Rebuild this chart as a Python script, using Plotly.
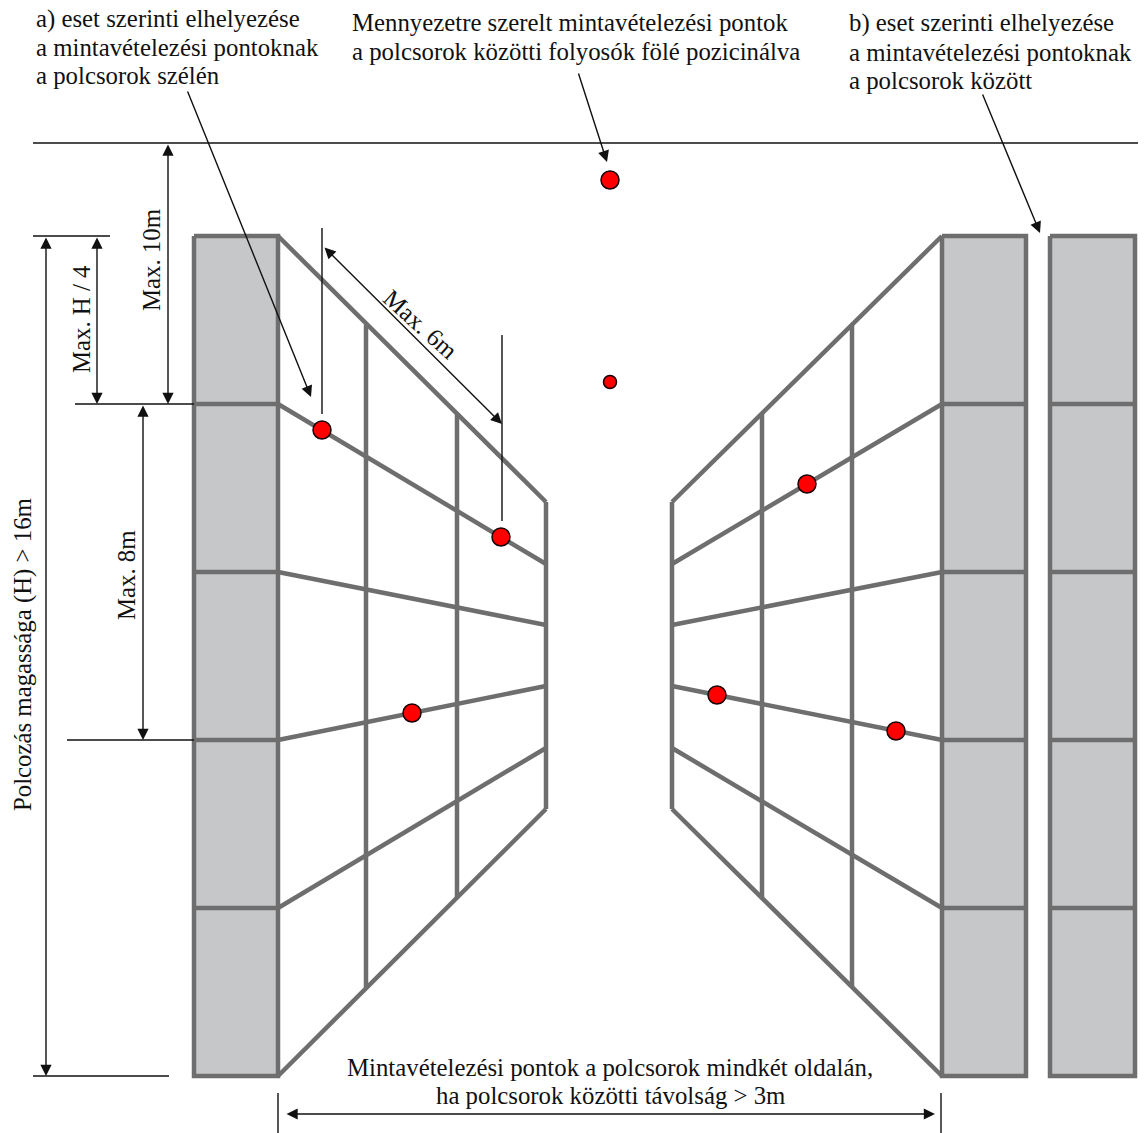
import plotly.graph_objects as go

# --- data (page pixel coordinates) ---
block_left = [194, 278]
block_mid = [942, 1026]
block_right = [1050, 1135]
level_y = [236, 404, 572, 740, 908, 1076]

far_left_x = 546
far_right_x = 672
far_y = [502, 564, 625, 686, 748, 809]
left_posts = [(366, 325, 987), (457, 414, 898), (546, 502, 809)]
right_posts = [(762, 414, 898), (852, 325, 987), (672, 502, 809)]

dots_large_x = [610, 322, 501, 412, 807, 717, 896]
dots_large_y = [180, 430, 537, 713, 484, 695, 731]
dots_small_x = [610]
dots_small_y = [382]

thin_lines = [
    ((33, 1138), (143, 143)),
    ((33, 110), (236, 236)),
    ((75, 194), (404, 404)),
    ((67, 194), (740, 740)),
    ((33, 169), (1076, 1076)),
    ((322, 322), (228, 414)),
    ((502, 502), (335, 521)),
    ((278, 278), (1093, 1133)),
    ((941, 941), (1093, 1133)),
]

# x0, y0, x1, y1, both ends?
arrows = [
    (46, 236, 46, 1076, True),
    (97, 236, 97, 404, True),
    (168, 143, 168, 404, True),
    (143, 404, 143, 740, True),
    (323, 246, 502, 424, True),
    (285, 1114, 935, 1114, True),
    (187, 90, 311, 397, False),
    (578, 72, 607, 162, False),
    (982, 93, 1040, 233, False),
]

labels = [
    ("a) eset szerinti elhelyezése", 36, 19, "left", 0),
    ("a mintavételezési pontoknak", 36, 47, "left", 0),
    ("a polcsorok szélén", 36, 75, "left", 0),
    ("Mennyezetre szerelt mintavételezési pontok", 352, 22, "left", 0),
    ("a polcsorok közötti folyosók fölé pozicinálva", 352, 51, "left", 0),
    ("b) eset szerinti elhelyezése", 849, 23, "left", 0),
    ("a mintavételezési pontoknak", 849, 52, "left", 0),
    ("a polcsorok között", 849, 80, "left", 0),
    ("Mintavételezési pontok a polcsorok mindkét oldalán,", 610, 1067, "center", 0),
    ("ha polcsorok közötti távolság &gt; 3m", 610, 1095, "center", 0),
    ("Polcozás magassága (H) &gt; 16m", 23, 655, "center", -90),
    ("Max. H / 4", 81, 319, "center", -90),
    ("Max. 10m", 151, 260, "center", -90),
    ("Max. 8m", 126, 575, "center", -90),
    ("Max. 6m", 421, 324, "center", 42),
]

GREY = "#6e6e6e"
FILL = "#c6c7c9"
FONT = "Liberation Serif"
GREY_W = 4.5

fig = go.Figure()


def add_line(xs, ys, color=GREY, width=GREY_W):
    fig.add_trace(go.Scatter(x=xs, y=ys, mode="lines", hoverinfo="skip",
                             line=dict(color=color, width=width)))


# shelving blocks
for x0, x1 in (block_left, block_mid, block_right):
    t, b = level_y[0], level_y[-1]
    fig.add_trace(go.Scatter(x=[x0, x1, x1, x0, x0], y=[t, t, b, b, t], mode="lines",
                             fill="toself", fillcolor=FILL, hoverinfo="skip",
                             line=dict(color=GREY, width=GREY_W)))
    for y in level_y[1:-1]:
        add_line([x0, x1], [y, y])

# perspective rails
for y, fy in zip(level_y, far_y):
    add_line([block_left[1], far_left_x], [y, fy])
    add_line([block_mid[0], far_right_x], [y, fy])

# posts
for x, y0, y1 in left_posts + right_posts:
    add_line([x, x], [y0, y1])

# thin lines
for xs, ys in thin_lines:
    add_line(list(xs), list(ys), color="#111111", width=1.4)

# sampling points
fig.add_trace(go.Scatter(x=dots_large_x, y=dots_large_y, mode="markers", hoverinfo="skip",
                         marker=dict(color="#ff0000", size=18, line=dict(color="#1a0000", width=1.5))))
fig.add_trace(go.Scatter(x=dots_small_x, y=dots_small_y, mode="markers", hoverinfo="skip",
                         marker=dict(color="#ff0000", size=13, line=dict(color="#1a0000", width=1.5))))

for x0, y0, x1, y1, both in arrows:
    fig.add_annotation(x=x1, y=y1, ax=x0, ay=y0, xref="x", yref="y", axref="x", ayref="y",
                       text="", showarrow=True, arrowhead=2, arrowsize=1.6, arrowwidth=1.4,
                       arrowcolor="#111111", arrowside="end+start" if both else "end",
                       startarrowhead=2, startarrowsize=1.6, standoff=0, startstandoff=0)

for text, x, y, align, angle in labels:
    fig.add_annotation(x=x, y=y, xref="x", yref="y", text=text, showarrow=False,
                       xanchor=align if angle == 0 else "center", yanchor="middle",
                       align=align, textangle=angle, borderpad=0, borderwidth=0,
                       font=dict(family=FONT, size=24.8, color="#111111"))

fig.update_layout(
    width=1144, height=1133, margin=dict(l=0, r=0, t=0, b=0),
    paper_bgcolor="white", plot_bgcolor="white", showlegend=False,
    xaxis=dict(range=[0, 1144], visible=False, fixedrange=True),
    yaxis=dict(range=[1133, 0], visible=False, fixedrange=True),
)

fig.write_html("out.html", config={"displayModeBar": False},
               post_script="document.body.style.margin='0';document.body.style.overflow='hidden';")
